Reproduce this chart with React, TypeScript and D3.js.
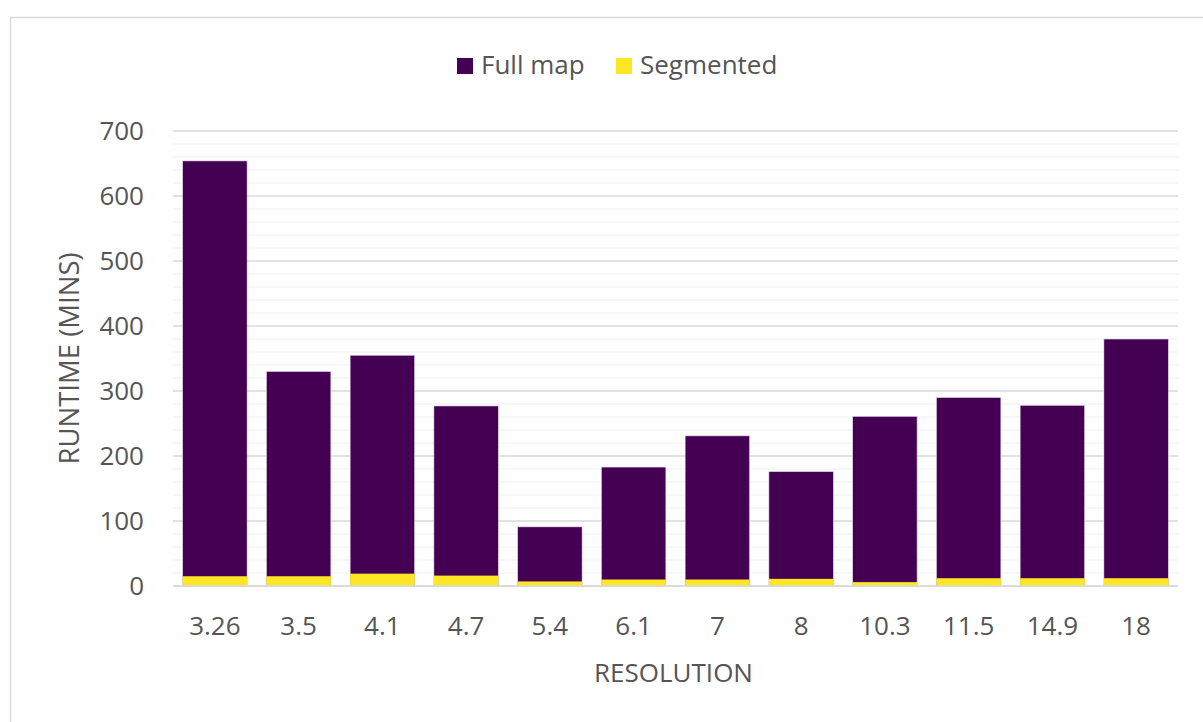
import React from "react";
import * as d3 from "d3";

const resolutions = ["3.26", "3.5", "4.1", "4.7", "5.4", "6.1", "7", "8", "10.3", "11.5", "14.9", "18"];
const fullMap = [654, 330, 355, 277, 91, 183, 231, 176, 261, 290, 278, 380];
const segmented = [15, 15, 19, 16, 7, 10, 10, 11, 6, 12, 12, 12];
const yTicks = [0, 100, 200, 300, 400, 500, 600, 700];
const legendItems = [
  { label: "Full map", color: "#440154" },
  { label: "Segmented", color: "#FDE725" },
];

const W = 1203;
const H = 722;
const plot = { left: 173, right: 1178, top: 131, bottom: 586 };
const FONT = "'Open Sans', 'DejaVu Sans', sans-serif";
const TEXT = "#555555";

export default function App() {
  const x = d3
    .scaleBand<string>()
    .domain(resolutions)
    .range([plot.left, plot.right])
    .paddingInner(0.23)
    .paddingOuter(0.115);
  const y = d3.scaleLinear().domain([0, 700]).range([plot.bottom, plot.top]);
  const minorTicks = d3.range(0, 701, 20).filter((v) => v % 100 !== 0);

  return (
    <div style={{ position: "absolute", left: 0, top: 0, width: W, height: H, background: "#fff" }}>
      <svg width={W} height={H} style={{ display: "block" }}>
        <rect x={0} y={0} width={W} height={H} fill="#fff" />
        <rect x={10.5} y={17.5} width={W + 20} height={H + 20} fill="none" stroke="#d9d9d9" strokeWidth={1.5} />

        {/* legend */}
        <g fontFamily={FONT} fontSize={26} fill={TEXT}>
          <rect x={457} y={58} width={16} height={16} fill={legendItems[0].color} />
          <text x={481} y={65} dy="0.35em">{legendItems[0].label}</text>
          <rect x={616} y={58} width={16} height={16} fill={legendItems[1].color} />
          <text x={640} y={65} dy="0.35em">{legendItems[1].label}</text>
        </g>

        {/* grid */}
        {minorTicks.map((v) => (
          <line key={"m" + v} x1={plot.left} x2={plot.right} y1={y(v)} y2={y(v)} stroke="#f0f0f0" strokeWidth={1.2} />
        ))}
        {yTicks.map((v) => (
          <line key={"g" + v} x1={plot.left} x2={plot.right} y1={y(v)} y2={y(v)} stroke="#d9d9d9" strokeWidth={1.3} />
        ))}

        {/* bars */}
        {resolutions.map((r, i) => (
          <g key={r}>
            <rect
              x={x(r)!}
              y={y(fullMap[i])}
              width={x.bandwidth()}
              height={y(0) - y(fullMap[i])}
              fill="#440154"
              stroke="#e6dcea"
              strokeWidth={0.6}
            />
            <rect
              x={x(r)!}
              y={y(segmented[i])}
              width={x.bandwidth()}
              height={y(0) - y(segmented[i])}
              fill="#FDE725"
            />
          </g>
        ))}
        <line x1={plot.left} x2={plot.right} y1={y(0)} y2={y(0)} stroke="#d9d9d9" strokeWidth={1.5} />

        {/* y axis labels */}
        <g fontFamily={FONT} fontSize={26} fill={TEXT} textAnchor="end">
          {yTicks.map((v) => (
            <text key={v} x={144} y={y(v)} dy="0.35em">
              {v}
            </text>
          ))}
        </g>

        {/* x axis labels */}
        <g fontFamily={FONT} fontSize={26} fill={TEXT} textAnchor="middle">
          {resolutions.map((r) => (
            <text key={r} x={x(r)! + x.bandwidth() / 2} y={635}>
              {r}
            </text>
          ))}
        </g>

        {/* axis titles */}
        <text x={673.5} y={682} fontFamily={FONT} fontSize={26} fill={TEXT} textAnchor="middle">
          RESOLUTION
        </text>
        <text
          transform={`translate(69, ${(plot.top + plot.bottom) / 2}) rotate(-90)`}
          dy="0.35em"
          fontFamily={FONT}
          fontSize={27.5}
          fill={TEXT}
          textAnchor="middle"
        >
          RUNTIME (MINS)
        </text>
      </svg>
    </div>
  );
}
